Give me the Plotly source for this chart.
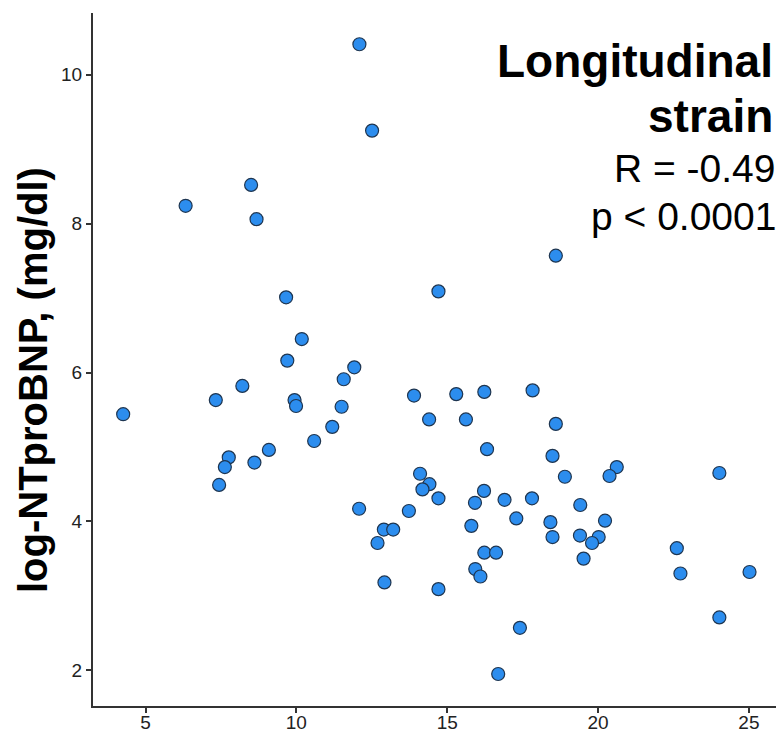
import plotly.graph_objects as go

# Longitudinal strain (x) vs log-NTproBNP (y)
strain = [12.09, 12.51, 8.50, 6.33, 8.68, 9.66, 10.18, 9.70, 11.92,
          11.57, 8.21, 7.33, 9.94, 9.99, 11.50, 4.26, 11.19, 10.59, 9.09,
          7.76, 7.63, 8.61, 7.44, 12.08, 12.90, 13.21, 12.69, 12.92,
          13.90, 15.30, 16.23, 17.83, 14.40, 15.62, 18.60, 16.32, 18.49,
          20.62, 20.38, 18.90, 24.02, 14.10, 14.41, 14.18, 14.71, 16.22,
          15.92, 16.90, 17.81, 13.73, 19.41, 17.29, 18.42, 20.23, 15.80,
          18.49, 19.40, 20.02, 19.80, 19.52, 16.23, 16.62, 22.61, 15.93,
          16.10, 22.73, 25.02, 14.71, 24.02, 17.41, 16.69, 18.60, 14.71]
ntprobnp = [10.41, 9.25, 8.52, 8.24, 8.06, 7.01, 6.45, 6.16, 6.07,
            5.91, 5.82, 5.63, 5.63, 5.55, 5.54, 5.44, 5.27, 5.08, 4.96,
            4.86, 4.73, 4.79, 4.49, 4.17, 3.89, 3.89, 3.71, 3.18,
            5.69, 5.71, 5.74, 5.76, 5.37, 5.37, 5.31, 4.97, 4.88,
            4.73, 4.61, 4.60, 4.65, 4.64, 4.50, 4.43, 4.31, 4.41,
            4.25, 4.29, 4.31, 4.14, 4.22, 4.04, 3.99, 4.01, 3.94,
            3.79, 3.81, 3.79, 3.71, 3.50, 3.58, 3.58, 3.64, 3.36,
            3.26, 3.30, 3.32, 3.09, 2.71, 2.57, 1.95, 7.57, 7.09]

x_ticks = [5, 10, 15, 20, 25]
y_ticks = [2, 4, 6, 8, 10]

title_lines = ["Longitudinal", "strain"]
stat_lines = ["R = -0.49", "p < 0.0001"]
y_title = "log-NTproBNP, (mg/dl)"

FONT = "Liberation Sans, Arial, Helvetica, sans-serif"

fig = go.Figure()
fig.add_trace(go.Scatter(
    x=strain, y=ntprobnp, mode="markers",
    marker=dict(size=13, color="#2C8DEE",
                line=dict(color="#1E3550", width=1.2)),
    showlegend=False, hoverinfo="x+y"))

axis_common = dict(showgrid=False, zeroline=False, automargin=False,
                   showline=True, linecolor="#333333", linewidth=2,
                   ticks="outside", ticklen=5, tickwidth=1.5, tickcolor="#333333",
                   tickfont=dict(size=19, family=FONT, color="#222222"))

# page body has an 8px margin, so the figure is 8px smaller and offset
fig.update_layout(
    width=776, height=726,
    margin=dict(l=85, r=4, t=5, b=28),
    plot_bgcolor="white", paper_bgcolor="white",
    font=dict(family=FONT, color="#222222"),
    xaxis=dict(range=[3.26, 26.03], tickvals=x_ticks,
               ticktext=[str(v) for v in x_ticks],
               ticklabelstandoff=-7, **axis_common),
    yaxis=dict(range=[1.52, 10.83], tickvals=y_ticks,
               ticktext=[str(v) for v in y_ticks], **axis_common),
)

def px_x(p):
    return (p - 93) / (780 - 93)

def px_y(p):
    return 1 - (p - 13) / (706 - 13)

# Y-axis title as rotated annotation
fig.add_annotation(text="<b>%s</b>" % y_title, textangle=-90,
                   xref="paper", yref="paper",
                   x=px_x(33), y=px_y(380), xanchor="center", yanchor="middle",
                   showarrow=False, font=dict(size=40, family=FONT, color="black"))

# Title block at top-right
for txt, yc in zip(title_lines, [61, 116]):
    fig.add_annotation(text="<b>%s</b>" % txt, xref="paper", yref="paper",
                       x=px_x(775), y=px_y(yc), xanchor="right", yanchor="middle",
                       showarrow=False, font=dict(size=46, family=FONT, color="black"))
for txt, yc in zip(stat_lines, [168, 216]):
    fig.add_annotation(text=txt, xref="paper", yref="paper",
                       x=px_x(778), y=px_y(yc), xanchor="right", yanchor="middle",
                       showarrow=False, font=dict(size=39, family=FONT, color="black"))

fig.write_html("out.html")
